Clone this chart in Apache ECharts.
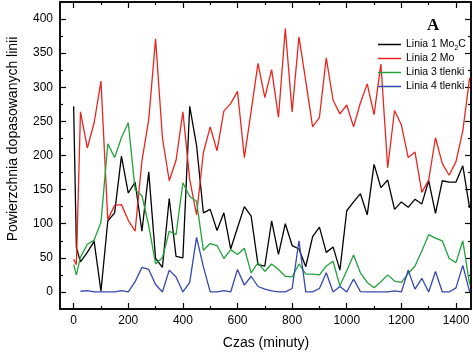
<!DOCTYPE html>
<html><head><meta charset="utf-8">
<script src="https://cdn.jsdelivr.net/npm/echarts@6/dist/echarts.min.js"></script>
<style>html,body{margin:0;padding:0;background:#fff}#c{width:473px;height:352px}</style>
</head><body><div id="c"></div>
<script>
const times = [0,10,25,50,75,100,125,150,175,200,225,250,275,300,325,350,375,400,425,450,475,500,525,550,575,600,625,650,675,700,725,750,775,800,825,850,875,900,925,950,975,1000,1025,1050,1075,1100,1125,1150,1175,1200,1225,1250,1275,1300,1325,1350,1375,1400,1425,1450];
const linia1 = [272,65,44,58,74,1,104,116,199,145,161,89,176,49,36,137,52,50,272,215,116,121,90,116,63,94,125,111,40,38,104,55,100,68,63,37,81,95,58,66,32,119,132,144,113,187,153,164,121,132,124,136,129,163,115,163,161,161,185,123];
const linia2 = [48,40,264,211,248,309,106,127,128,105,89,192,253,371,226,163,193,264,165,113,204,242,207,265,276,294,197,265,335,285,326,256,386,264,374,309,242,256,343,281,261,274,242,277,305,260,334,182,266,245,197,205,146,164,226,188,171,191,236,314];
const linia3 = [40,25,51,70,76,102,217,197,226,248,150,141,97,41,50,89,84,160,140,133,61,71,68,49,62,55,64,28,43,30,41,33,23,22,41,26,26,25,38,45,9,31,54,28,14,6,15,25,16,14,27,38,60,84,79,75,49,43,75,11];
const linia4 = [null,null,1,2,0,0,0,0,2,0,15,36,33,11,0,32,22,0,14,80,37,0,0,2,0,33,10,23,8,4,1.5,0,0,5,75,0,0,5,28,0,8,0,19,0.5,0,0,0,0,1.5,0,32,4,20,0,30,0,0,6,39,0];
const seriesNames = ['Linia 1 Mo{sub|2}C','Linia 2 Mo','Linia 3 tlenki','Linia 4 tlenki'];
const xMajor = [0,200,400,600,800,1000,1200,1400];
const xMinor = [100,300,500,700,900,1100,1300];
const yMajor = [0,50,100,150,200,250,300,350,400];
const yMinor = [25,75,125,175,225,275,325,375];

const FONT = 'Liberation Sans';
function ax(kind, pos, vals, len, labels){
  const o = {type:'value', position:pos,
    axisLine:{show:true, onZero:false, lineStyle:{color:'#000', width:1.5}},
    axisTick:{show:true, inside:true, length:len, customValues:vals, lineStyle:{color:'#000', width:1.2}},
    axisLabel:{show:labels, customValues:vals, margin:kind==='x'?6:7, color:'#000', fontSize:12, fontFamily:FONT, formatter:v=>String(v)},
    splitLine:{show:false}};
  if (kind==='x'){o.min=-50;o.max=1455;} else {o.min=-25;o.max=425;}
  return o;
}
const colors = ['#000000','#e8261f','#23a23c','#3448ad'];
const dataSets = [linia1, linia2, linia3, linia4];
const chart = echarts.init(document.getElementById('c'));
chart.setOption({
  animation:false,
  backgroundColor:'#fff',
  grid:{left:60, right:2, top:2, bottom:43},
  title:{text:'A', left:422, top:12, textStyle:{fontFamily:'Liberation Serif', fontWeight:'bold', fontSize:17, color:'#000'}},
  xAxis:[ax('x','bottom',xMajor,6,true), ax('x','bottom',xMinor,3,false), ax('x','top',xMajor,6,false), ax('x','top',xMinor,3,false)],
  yAxis:[ax('y','left',yMajor,6,true), ax('y','left',yMinor,3,false), ax('y','right',yMajor,6,false), ax('y','right',yMinor,3,false)],
  legend:{orient:'vertical', left:378, top:37.5, icon:'rect', itemWidth:23, itemHeight:1.5, itemGap:0, padding:0,
    data:seriesNames,
    textStyle:{fontSize:10.5, lineHeight:14, fontFamily:FONT, color:'#000', rich:{sub:{fontSize:7, lineHeight:14, verticalAlign:'bottom', padding:[5,0,0,0], fontFamily:FONT}}}},
  graphic:[
    {type:'text', x:13, y:139, rotation:Math.PI/2, style:{text:'Powierzchnia dopasowanych linii', fontSize:14, fontFamily:FONT, fill:'#000', align:'center', verticalAlign:'middle'}},
    {type:'text', x:266, y:343, style:{text:'Czas (minuty)', fontSize:14, fontFamily:FONT, fill:'#000', align:'center', verticalAlign:'middle'}}
  ],
  series: dataSets.map((d,i)=>({
    name:seriesNames[i], type:'line', xAxisIndex:0, yAxisIndex:0,
    symbol:'none', showSymbol:false, color:colors[i],
    lineStyle:{color:colors[i], width:1.3},
    data: times.map((t,k)=>[t, d[k]])
  }))
});
</script></body></html>
